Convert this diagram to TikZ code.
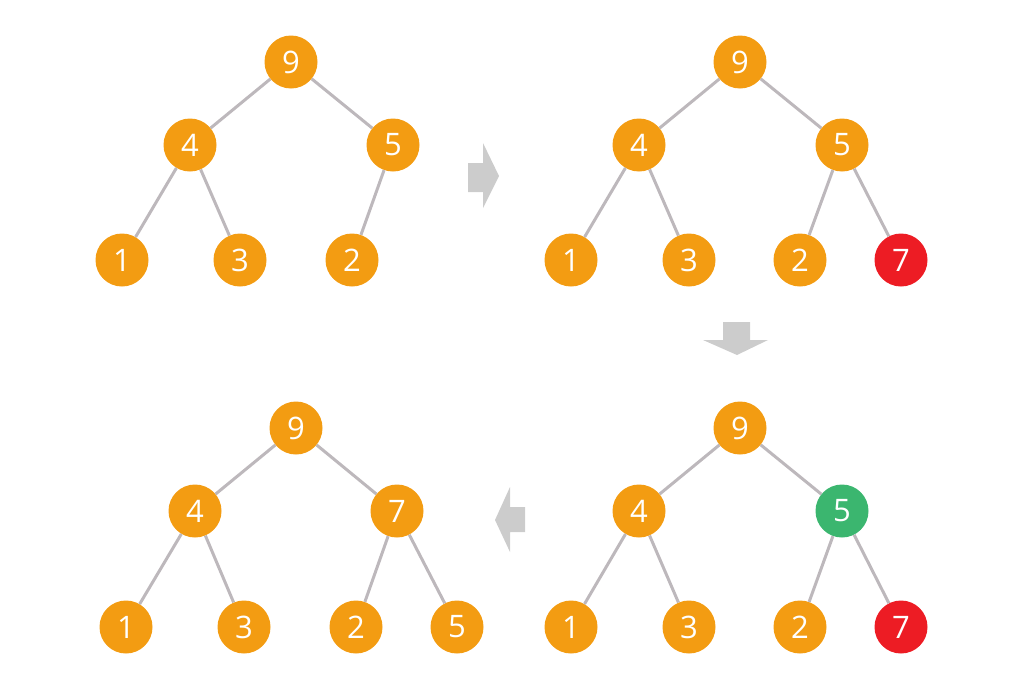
\documentclass[tikz,border=0pt]{standalone}
\usepackage{fontspec}
\setmainfont{Open Sans}
\usepackage{xcolor}
\usepackage{tikz}

\definecolor{heaporange}{HTML}{F39C12}
\definecolor{heapred}{HTML}{ED1C24}
\definecolor{heapgreen}{HTML}{3BB66F}
\definecolor{edgegray}{HTML}{BDB8BC}
\definecolor{arrowgray}{HTML}{CCCCCC}

\tikzset{
    key/.style={circle, fill=heaporange, minimum size=53pt, inner sep=0pt,
        text=white, font=\fontsize{31}{31}\selectfont},
    newkey/.style={key, fill=heapred},
    swapkey/.style={key, fill=heapgreen},
    link/.style={edgegray, line width=3pt},
    flow/.style={fill=arrowgray}
}

\begin{document}
\begin{tikzpicture}[x=1pt, y=-1pt]
        \useasboundingbox (0,0) rectangle (1024,696);

        % Heap before insertion
        \node[key] (a9) at (291,62) {9};
        \node[key] (a4) at (190,145) {4};
        \node[key] (a5) at (393,145) {5};
        \node[key] (a1) at (122,260) {1};
        \node[key] (a3) at (240,260) {3};
        \node[key] (a2) at (352,260) {2};
        \draw[link] (a9) -- (a4);
        \draw[link] (a9) -- (a5);
        \draw[link] (a4) -- (a1);
        \draw[link] (a4) -- (a3);
        \draw[link] (a5) -- (a2);

        % New key appended at the bottom
        \node[key] (b9) at (740,62) {9};
        \node[key] (b4) at (639,145) {4};
        \node[key] (b5) at (842,145) {5};
        \node[key] (b1) at (571,260) {1};
        \node[key] (b3) at (689,260) {3};
        \node[key] (b2) at (800,260) {2};
        \node[newkey] (b7) at (901,260) {7};
        \draw[link] (b9) -- (b4);
        \draw[link] (b9) -- (b5);
        \draw[link] (b4) -- (b1);
        \draw[link] (b4) -- (b3);
        \draw[link] (b5) -- (b2);
        \draw[link] (b5) -- (b7);

        % Compare with the parent
        \node[key] (c9) at (740,428) {9};
        \node[key] (c4) at (639,511) {4};
        \node[swapkey] (c5) at (842,511) {5};
        \node[key] (c1) at (571,627) {1};
        \node[key] (c3) at (689,627) {3};
        \node[key] (c2) at (800,627) {2};
        \node[newkey] (c7) at (901,627) {7};
        \draw[link] (c9) -- (c4);
        \draw[link] (c9) -- (c5);
        \draw[link] (c4) -- (c1);
        \draw[link] (c4) -- (c3);
        \draw[link] (c5) -- (c2);
        \draw[link] (c5) -- (c7);

        % Heap after sift up
        \node[key] (d9) at (296,428) {9};
        \node[key] (d4) at (195,511) {4};
        \node[key] (d7) at (397,511) {7};
        \node[key] (d1) at (126,627) {1};
        \node[key] (d3) at (244,627) {3};
        \node[key] (d2) at (356,627) {2};
        \node[key] (d5) at (457,627) {5};
        \draw[link] (d9) -- (d4);
        \draw[link] (d9) -- (d7);
        \draw[link] (d4) -- (d1);
        \draw[link] (d4) -- (d3);
        \draw[link] (d7) -- (d2);
        \draw[link] (d7) -- (d5);

        % Block arrows between the steps
        \fill[flow] (468,163) -- (483,163) -- (483,143) -- (499,176)
            -- (483,208) -- (483,192) -- (468,192) -- cycle;
        \fill[flow] (723,322) -- (750,322) -- (750,340) -- (768,340)
            -- (737,355) -- (703,340) -- (723,340) -- cycle;
        \fill[flow] (525,507) -- (510,507) -- (510,487) -- (495,520)
            -- (510,552) -- (510,532) -- (525,532) -- cycle;
    \end{tikzpicture}
\end{document}
